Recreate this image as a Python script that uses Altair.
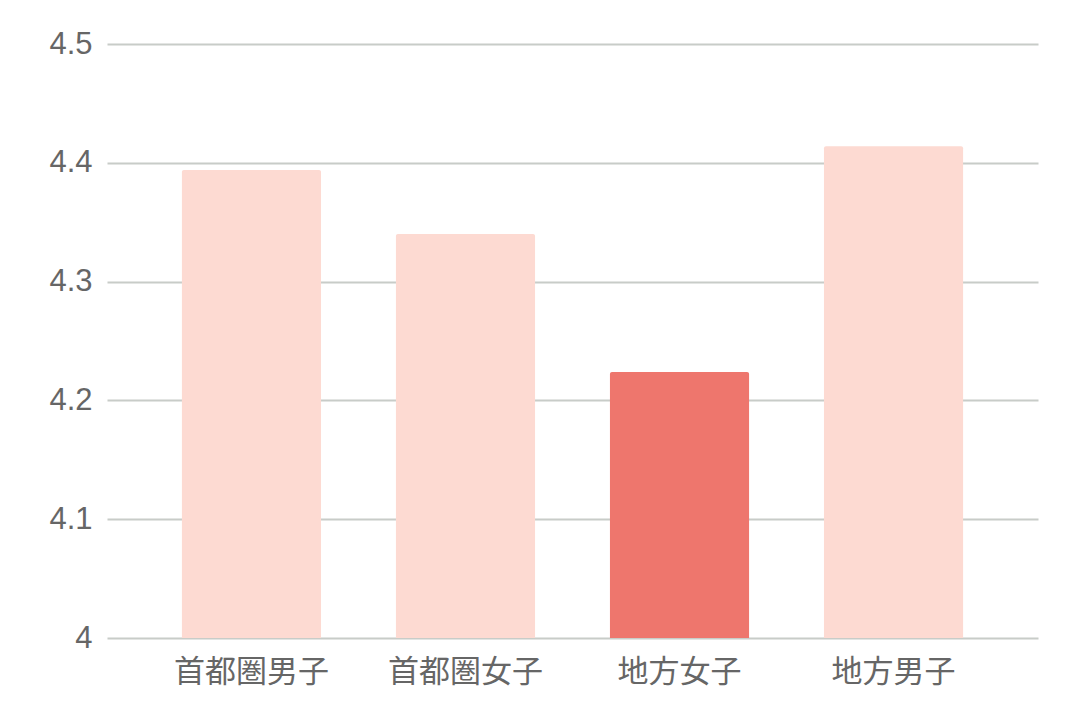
import altair as alt
import pandas as pd

categories = ["首都圏男子", "首都圏女子", "地方女子", "地方男子"]
values = [4.394, 4.340, 4.224, 4.414]
colors = ["#fddad2", "#fddad2", "#ee766d", "#fddad2"]

df = pd.DataFrame({"cat": categories, "val": values, "col": colors})

chart = alt.Chart(df).mark_bar(cornerRadiusTopLeft=2, cornerRadiusTopRight=2).encode(
    x=alt.X("cat:N", sort=categories, title=None,
            scale=alt.Scale(paddingInner=0.35, paddingOuter=0.35),
            axis=alt.Axis(labelAngle=0, labelFont="Noto Sans CJK JP", labelFontSize=31,
                          labelColor="#666666", labelPadding=19, ticks=False, domain=False)),
    y=alt.Y("val:Q", title=None,
            scale=alt.Scale(domain=[4, 4.5], zero=False, nice=False),
            axis=alt.Axis(values=[4, 4.1, 4.2, 4.3, 4.4, 4.5], format=".1~f",
                          labelFont="Liberation Sans", labelFontSize=31, labelColor="#666666",
                          labelPadding=15, ticks=False, domain=False,
                          gridColor="#c8ccc8", gridWidth=2)),
    y2=alt.datum(4),
    color=alt.Color("col:N", scale=None),
).properties(
    width=931, height=594,
    autosize=alt.AutoSizeParams(type="none"),
    padding={"left": 99, "top": 36, "right": 30, "bottom": 63},
).configure_view(stroke=None)

chart.save("out.html", embed_options={"renderer": "svg", "actions": False})
